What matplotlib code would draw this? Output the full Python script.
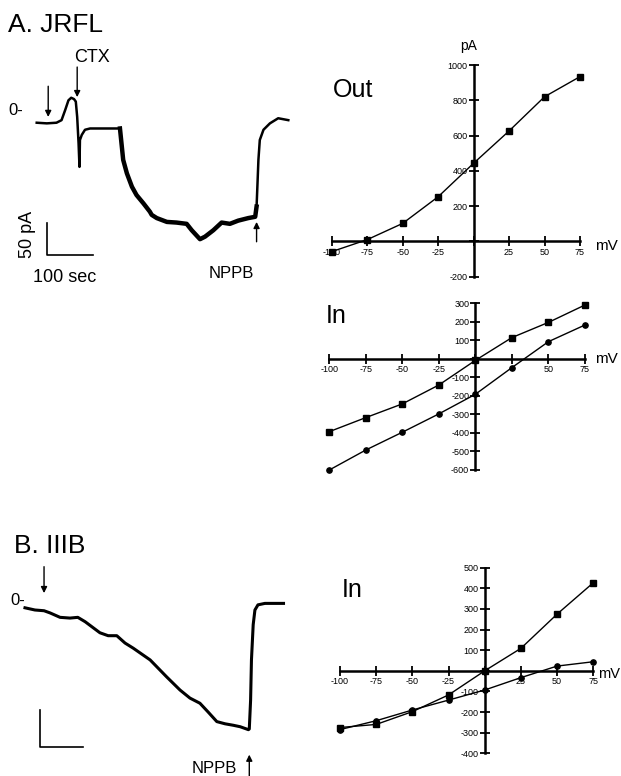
import matplotlib.pyplot as plt

plt.rcParams['font.family'] = ['Liberation Sans', 'DejaVu Sans']
plt.rcParams['axes.unicode_minus'] = False

# Trace A (JRFL): time (sec) and current (pA)
jrfl_t = [0, 22, 43, 54, 62, 69, 75, 81, 85, 88, 91, 93, 94, 98, 105, 116, 138, 159, 181,
          185, 188, 196, 207, 217, 232, 246, 250, 261, 283, 304, 326, 337, 355, 366, 384,
          402, 420, 438, 460, 475, 478, 480, 482, 485, 493, 507, 525, 547]
jrfl_i = [-23, -24, -23, -19, -3, 12, 16, 14, 10, -14, -55, -92, -50, -42, -34, -32, -32, -32, -32,
          -60, -81, -102, -123, -136, -149, -162, -167, -172, -178, -179, -181, -191, -205, -201, -191,
          -179, -181, -176, -172, -170, -154, -118, -81, -50, -34, -24, -16, -19]

# Trace B (IIIB)
iiib_t = [0, 23, 44, 58, 81, 104, 122, 139, 173, 192, 212, 231, 250, 289, 327, 358, 381, 404,
          423, 443, 462, 481, 497, 516, 518, 521, 523, 527, 531, 538, 554, 597]
iiib_i = [-12, -15, -16, -19, -25, -26, -25, -31, -46, -50, -50, -60, -67, -83, -106, -124, -135, -142,
          -154, -167, -170, -172, -174, -178, -177, -138, -83, -35, -15, -8, -6, -6]

# I-V curves
mv = [-100, -75, -50, -25, 0, 25, 50, 75]
out_pa = [-58, 10, 102, 253, 443, 626, 820, 934]
jrfl_in_sq = [-393, -317, -243, -141, -8, 115, 197, 291]
jrfl_in_ci = [-600, -492, -396, -297, -191, -47, 93, 183]
iiib_in_sq = [-275, -260, -198, -117, 0, 109, 275, 427]
iiib_in_ci = [-285, -242, -190, -142, -93, -33, 23, 44]

W, H = 621, 776
fig = plt.figure(figsize=(6.21, 7.76), dpi=100)


def box(x0, y0, x1, y1):
    return fig.add_axes([x0 / W, 1 - y1 / H, (x1 - x0) / W, (y1 - y0) / H])


def ftext(x, y, s, **kw):
    fig.text(x / W, 1 - y / H, s, **kw)


def arrow(ax, x, y_tail, y_tip):
    ax.annotate('', xy=(x, y_tip), xytext=(x, y_tail), annotation_clip=False,
                arrowprops=dict(arrowstyle='-|>', lw=1, color='black',
                                mutation_scale=9, shrinkA=0, shrinkB=0))


# ---- A. JRFL trace
axA = box(0, 0, 300, 300)
axA.set_xlim(-79.8, 572.4)
axA.set_ylim(-300, 168.75)
axA.axis('off')
axA.plot(jrfl_t, jrfl_i, color='black', lw=1.8)
axA.plot(jrfl_t[18:41], jrfl_i[18:41], color='black', lw=3.2)
axA.plot([23, 23, 123], [-180, -230, -230], color='black', lw=1.2)
arrow(axA, 25, 34, -14)
arrow(axA, 88, 64, 17)
arrow(axA, 478, -209, -178)

ftext(8, 31.7, 'A. JRFL', fontsize=19, va='baseline')
ftext(74, 61.7, 'CTX', fontsize=13, va='baseline')
ftext(8, 115, '0-', fontsize=12, va='baseline')
ftext(209, 278.3, 'NPPB', fontsize=12, va='baseline')
ftext(33, 281.7, '100 sec', fontsize=13, va='baseline')
ftext(27.5, 234, '50 pA', fontsize=13, rotation=90, ha='center', va='center')

# ---- B. IIIB trace
axB = box(0, 560, 300, 776)
axB.set_xlim(-57.7, 635.1)
axB.set_ylim(-241.1, 53.1)
axB.axis('off')
axB.plot(iiib_t, iiib_i, color='black', lw=2.2)
axB.plot([35, 35, 135], [-151, -201, -201], color='black', lw=1.2)
arrow(axB, 44, 44, 8)
arrow(axB, 518, -242, -212)

ftext(14, 553.3, 'B. IIIB', fontsize=19, va='baseline')
ftext(10, 605, '0-', fontsize=12, va='baseline')
ftext(191.7, 773.3, 'NPPB', fontsize=12, va='baseline')


# ---- I-V panels
def iv_axes(ax, ylim, yticks, xlabels):
    ax.set_xlim(-100, 75)
    ax.set_ylim(*ylim)
    ax.patch.set_visible(False)
    for s in ['top', 'right']:
        ax.spines[s].set_visible(False)
    for s in ['left', 'bottom']:
        ax.spines[s].set_position('zero')
        ax.spines[s].set_linewidth(1.8)
    ax.set_xticks(mv)
    ax.set_xticklabels(xlabels)
    ax.set_yticks(yticks)
    ax.set_yticklabels([str(v) if v != 0 else '' for v in yticks])
    ax.tick_params(direction='inout', length=7, width=1.3, labelsize=6.5, pad=1)


xl = ['-100', '-75', '-50', '-25', '', '25', '50', '75']

axO = box(331.7, 65, 580, 276.7)
iv_axes(axO, (-200, 1000), [-200, 0, 200, 400, 600, 800, 1000], xl)
axO.plot(mv, out_pa, color='black', lw=1, marker='s', ms=4, clip_on=False)
ftext(333, 96.7, 'Out', fontsize=18, va='baseline')
ftext(469, 50, 'pA', fontsize=10, va='baseline', ha='center')
ftext(595, 250, 'mV', fontsize=11, va='baseline')

axI = box(329.3, 303.3, 585, 470)
iv_axes(axI, (-600, 300), list(range(-600, 301, 100)),
        ['-100', '-75', '-50', '-25', '', '', '50', '75'])
axI.plot(mv, jrfl_in_sq, color='black', lw=1, marker='s', ms=3.8, clip_on=False)
axI.plot(mv, jrfl_in_ci, color='black', lw=1, marker='o', ms=3.8, clip_on=False)
ftext(326, 323.3, 'In', fontsize=18, va='baseline')
ftext(595, 363.3, 'mV', fontsize=11, va='baseline')

axI2 = box(340, 567.7, 593.3, 753.3)
iv_axes(axI2, (-400, 500), list(range(-400, 501, 100)), xl)
axI2.plot(mv, iiib_in_sq, color='black', lw=1, marker='s', ms=3.8, clip_on=False)
axI2.plot(mv, iiib_in_ci, color='black', lw=1, marker='o', ms=3.8, clip_on=False)
ftext(342, 596.7, 'In', fontsize=18, va='baseline')
ftext(598, 678.3, 'mV', fontsize=10.5, va='baseline')

fig.savefig('out.png', dpi=100)
